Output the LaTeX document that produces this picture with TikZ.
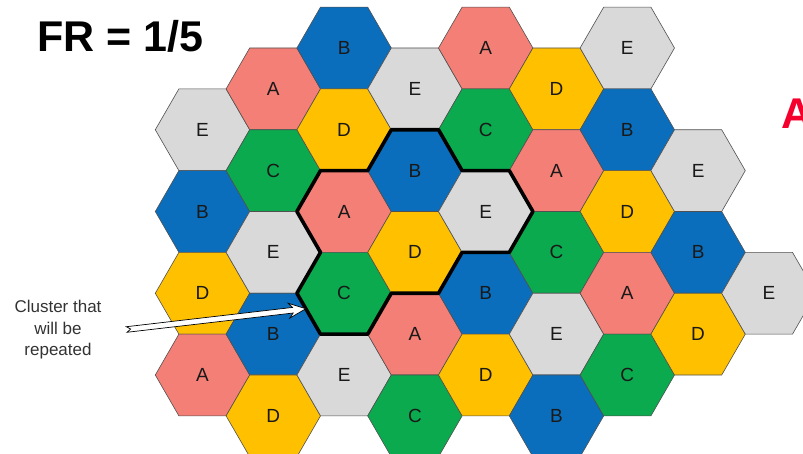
\documentclass[tikz,border=0pt]{standalone}
\usepackage{fontspec}
\setmainfont{Liberation Sans}
\usetikzlibrary{shapes.geometric,calc}
\definecolor{cA}{HTML}{F47F76}
\definecolor{cB}{HTML}{0A6EBD}
\definecolor{cC}{HTML}{0BAA4E}
\definecolor{cD}{HTML}{FFC000}
\definecolor{cE}{HTML}{D9D9D9}
\definecolor{hexline}{HTML}{505050}
\definecolor{redA}{HTML}{F5002D}
\tikzset{
  hexcell/.style={regular polygon, regular polygon sides=6, minimum size=94.4pt,
    inner sep=0pt, outer sep=0pt, draw=hexline, line width=0.6pt,
    font=\fontsize{19}{19}\selectfont, text=black!90},
  clusterline/.style={line width=3.6pt, black, line join=round},
  hollowarrow/.style={draw=black, fill=white, line width=0.7pt, line join=miter},
  titletext/.style={inner sep=0pt, anchor=base west, font=\fontsize{43}{43}\selectfont\bfseries},
  smalltext/.style={align=center, inner sep=0pt, font=\fontsize{17}{21.5}\selectfont, text=black!80}
}
\newcommand\hexat[4]{\node[hexcell, fill=c#4] (#1) at ({202.5+70.8*#2},{48+40.875*#3}) {#4};}
\begin{document}
\begin{tikzpicture}[x=1pt,y=-1pt]
\useasboundingbox (0,0) rectangle (803,454);
\clip (0,0) rectangle (803,454);
% column 0
\hexat{h02}{0}{2}{E}
\hexat{h04}{0}{4}{B}
\hexat{h06}{0}{6}{D}
\hexat{h08}{0}{8}{A}
% column 1
\hexat{h11}{1}{1}{A}
\hexat{h13}{1}{3}{C}
\hexat{h15}{1}{5}{E}
\hexat{h17}{1}{7}{B}
\hexat{h19}{1}{9}{D}
% column 2
\hexat{h20}{2}{0}{B}
\hexat{h22}{2}{2}{D}
\hexat{h24}{2}{4}{A}
\hexat{h26}{2}{6}{C}
\hexat{h28}{2}{8}{E}
% column 3
\hexat{h31}{3}{1}{E}
\hexat{h33}{3}{3}{B}
\hexat{h35}{3}{5}{D}
\hexat{h37}{3}{7}{A}
\hexat{h39}{3}{9}{C}
% column 4
\hexat{h40}{4}{0}{A}
\hexat{h42}{4}{2}{C}
\hexat{h44}{4}{4}{E}
\hexat{h46}{4}{6}{B}
\hexat{h48}{4}{8}{D}
% column 5
\hexat{h51}{5}{1}{D}
\hexat{h53}{5}{3}{A}
\hexat{h55}{5}{5}{C}
\hexat{h57}{5}{7}{E}
\hexat{h59}{5}{9}{B}
% column 6
\hexat{h60}{6}{0}{E}
\hexat{h62}{6}{2}{B}
\hexat{h64}{6}{4}{D}
\hexat{h66}{6}{6}{A}
\hexat{h68}{6}{8}{C}
% column 7
\hexat{h73}{7}{3}{E}
\hexat{h75}{7}{5}{B}
\hexat{h77}{7}{7}{D}
% column 8
\hexat{h86}{8}{6}{E}

% cluster outline
\draw[clusterline] (h33.120) -- (h33.60) -- (h33.0) -- (h44.60) -- (h44.0)
  -- (h44.300) -- (h44.240) -- (h35.300) -- (h35.240) -- (h26.300)
  -- (h26.240) -- (h26.180) -- (h26.120) -- (h24.180) -- (h24.120)
  -- (h24.60) -- cycle;

% texts
\node[titletext] (fr) at (37.5,51.7) {FR = 1/5};
\node[titletext, text=redA] (reda) at (781.5,128.3) {A};
\node[smalltext] (lbl) at (58,330) {Cluster that\\will be\\repeated};

% hollow arrow
\coordinate (arrtail) at (126.7,329.5);
\coordinate (arrtip) at (h26.202);
\draw[hollowarrow] let \p1=($(arrtip)-(arrtail)$), \n1={atan2(\y1,\x1)},
    \n2={veclen(\x1,\y1)}, \n3={\n2-13}, \n4={\n2-17} in
  ($(arrtail)+(\n1+90:2.8pt)$)
  -- ($(arrtail)+(\n1:\n3)+(\n1+90:2.8pt)$)
  -- ($(arrtail)+(\n1:\n4)+(\n1+90:7.5pt)$)
  -- (arrtip)
  -- ($(arrtail)+(\n1:\n4)+(\n1-90:7.5pt)$)
  -- ($(arrtail)+(\n1:\n3)+(\n1-90:2.8pt)$)
  -- ($(arrtail)+(\n1-90:2.8pt)$)
  -- ($(arrtail)+(\n1:4pt)$)
  -- cycle;
\end{tikzpicture}
\end{document}
